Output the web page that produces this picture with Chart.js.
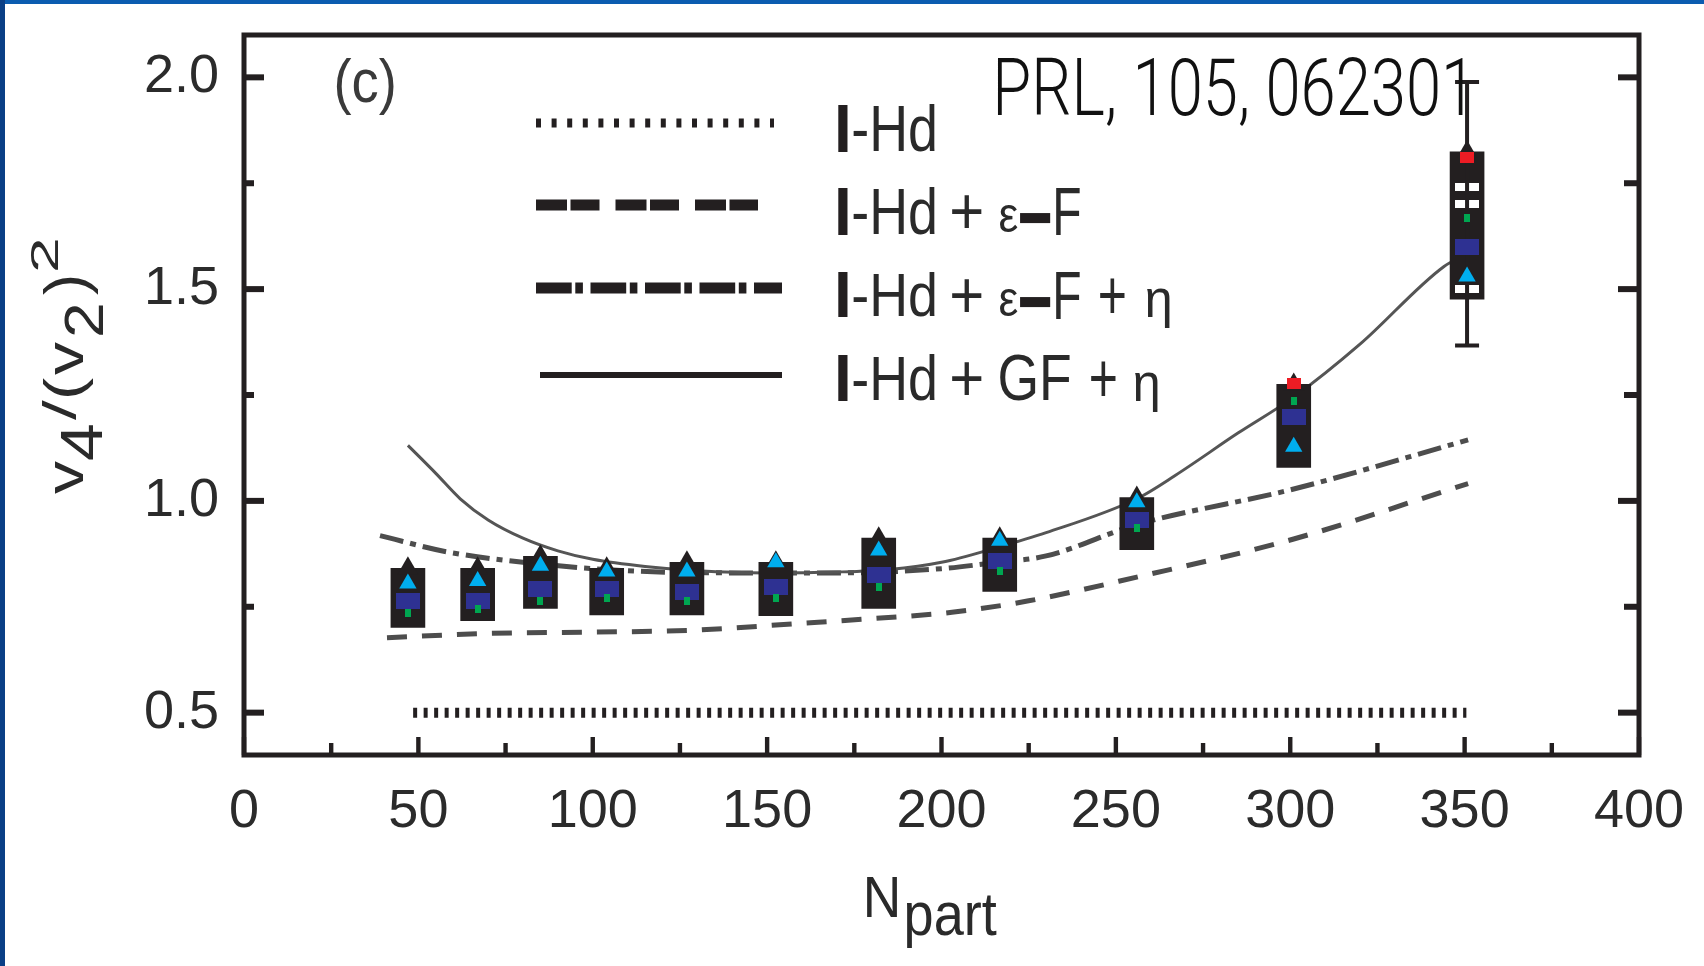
<!DOCTYPE html>
<html>
<head>
<meta charset="utf-8">
<script src="https://cdn.jsdelivr.net/npm/chart.js@4.4.1/dist/chart.umd.min.js"></script>
<style>
  html, body { margin: 0; padding: 0; background: #fff; }
  #wrap { width: 1704px; height: 966px; }
</style>
</head>
<body>
<div id="wrap"><canvas id="myChart" width="1704" height="966"></canvas></div>
<script>
// measured points (Npart positions of the centrality bins)
var nPart = [47, 67, 85, 104, 127, 152.5, 182, 216.7, 256, 301, 350.7];
var boxLow = [0.701, 0.717, 0.746, 0.731, 0.731, 0.729, 0.746, 0.786, 0.885, 1.079, 1.476];
var boxHigh = [0.841, 0.841, 0.869, 0.841, 0.855, 0.855, 0.912, 0.912, 1.008, 1.275, 1.824];
var cyanVal = [0.805, 0.811, 0.847, 0.833, 0.833, 0.855, 0.883, 0.906, 0.997, 1.128, 1.530];
var navyVal = [0.764, 0.764, 0.793, 0.791, 0.786, 0.797, 0.826, 0.857, 0.956, 1.199, 1.600];
var greenVal = [0.736, 0.745, 0.764, 0.771, 0.764, 0.771, 0.797, 0.835, 0.935, 1.235, 1.668];
var redN = [301, 350.7];
var redVal = [1.277, 1.811];
var openN = [350.7, 350.7, 350.7, 350.7];
var openVal = [1.74, 1.70, 1.60, 1.50];
var errN = [350.7];
var errLow = [1.367];
var errHigh = [1.989];

// model curves
var hdN = [48.5, 350.5];
var hdVal = [0.5, 0.5];
var efN = [41, 70, 100, 130, 158, 180, 203, 225, 256, 301, 351];
var efVal = [0.677, 0.687, 0.690, 0.695, 0.710, 0.722, 0.737, 0.764, 0.820, 0.910, 1.041];
var efeN = [39, 58, 80, 110, 140, 170, 200, 216, 230, 256, 301, 351];
var efeVal = [0.918, 0.880, 0.855, 0.835, 0.830, 0.830, 0.840, 0.855, 0.870, 0.944, 1.028, 1.144];
var gfN = [47, 55, 62, 70, 80, 90, 100, 115, 130, 150, 170, 185, 200, 216, 230, 256, 267, 285, 301, 320, 344, 350];
var gfVal = [1.131, 1.065, 1.005, 0.955, 0.912, 0.882, 0.862, 0.845, 0.835, 0.830, 0.832, 0.838, 0.855, 0.890, 0.925, 1.005, 1.060, 1.160, 1.245, 1.370, 1.553, 1.580];

var legendText = ['I-Hd', 'I-Hd + \u03b5\u2212F', 'I-Hd + \u03b5\u2212F + \u03b7', 'I-Hd + GF + \u03b7'];

// axis ticks
var xMajor = [0, 50, 100, 150, 200, 250, 300, 350, 400];
var xMinor = [25, 75, 125, 175, 225, 275, 325, 375];
var yMajor = [0.5, 1.0, 1.5, 2.0];
var yMinor = [0.75, 1.25, 1.75];

var INK = '#231f20';
var SANS = "'Liberation Sans', Arial, sans-serif";

function pts(xs, ys) {
    var out = [];
    for (var i = 0; i < xs.length; i++) {
        out.push({ x: xs[i], y: ys[i] });
    }
    return out;
}

function rectImg(w, h, color) {
    var c = document.createElement('canvas');
    c.width = w;
    c.height = h;
    var g = c.getContext('2d');
    g.fillStyle = color;
    g.fillRect(0, 0, w, h);
    return c;
}

// draws s so that its ink fills the box x0..x1, y0..y1
function fitInk(ctx, s, x0, x1, y0, y1, font, color) {
    ctx.save();
    ctx.font = font || ('64px ' + SANS);
    ctx.fillStyle = color || INK;
    ctx.textAlign = 'left';
    ctx.textBaseline = 'alphabetic';
    var m = ctx.measureText(s);
    var w = m.actualBoundingBoxLeft + m.actualBoundingBoxRight;
    var h = m.actualBoundingBoxAscent + m.actualBoundingBoxDescent;
    ctx.translate(x0, y0);
    ctx.scale((x1 - x0) / w, (y1 - y0) / h);
    ctx.fillText(s, m.actualBoundingBoxLeft, m.actualBoundingBoxAscent);
    ctx.restore();
}

var boxData = [];
for (var i = 0; i < nPart.length; i++) {
    boxData.push({ x: nPart[i], y: [boxLow[i], boxHigh[i]] });
}

var paperPlugin = {
    id: 'paper',
    beforeDraw: function (chart) {
        var ctx = chart.ctx;
        ctx.save();
        ctx.fillStyle = '#ffffff';
        ctx.fillRect(0, 0, chart.width, chart.height);
        ctx.fillStyle = '#0b5cb0';
        ctx.fillRect(0, 0, chart.width, 4);
        ctx.fillStyle = '#0a3f86';
        ctx.fillRect(0, 0, 5, chart.height);
        ctx.restore();
    },
    afterDatasetDraw: function (chart, args) {
        if (chart.data.datasets[args.index].label !== 'open') return;
        var ctx = chart.ctx;
        var xs = chart.scales.x, ys = chart.scales.y;
        ctx.save();
        ctx.strokeStyle = INK;
        ctx.lineWidth = 4;
        for (var i = 0; i < errN.length; i++) {
            var px = xs.getPixelForValue(errN[i]);
            var lo = ys.getPixelForValue(errLow[i]);
            var hi = ys.getPixelForValue(errHigh[i]);
            ctx.beginPath();
            ctx.moveTo(px, lo); ctx.lineTo(px, hi);
            ctx.moveTo(px - 12, lo); ctx.lineTo(px + 12, lo);
            ctx.moveTo(px - 12, hi); ctx.lineTo(px + 12, hi);
            ctx.stroke();
        }
        ctx.restore();
    },
    afterDraw: function (chart) {
        var ctx = chart.ctx;
        var a = chart.chartArea;
        var xs = chart.scales.x, ys = chart.scales.y;
        ctx.save();

        // frame
        ctx.strokeStyle = INK;
        ctx.lineWidth = 5;
        ctx.strokeRect(a.left, a.top, a.right - a.left, a.bottom - a.top);

        // inward ticks
        ctx.fillStyle = INK;
        xMajor.forEach(function (v) {
            var p = xs.getPixelForValue(v);
            ctx.fillRect(p - 2.2, a.bottom - 18, 4.4, 18);
        });
        xMinor.forEach(function (v) {
            var p = xs.getPixelForValue(v);
            ctx.fillRect(p - 2.2, a.bottom - 12, 4.4, 12);
        });
        yMajor.forEach(function (v) {
            var p = ys.getPixelForValue(v);
            ctx.fillRect(a.left, p - 3, 20, 6);
            ctx.fillRect(a.right - 21, p - 3, 21, 6);
        });
        yMinor.forEach(function (v) {
            var p = ys.getPixelForValue(v);
            ctx.fillRect(a.left, p - 3, 10, 6);
            ctx.fillRect(a.right - 15, p - 3, 15, 6);
        });

        // legend samples
        var rows = [
            { y: 123, x0: 536, x1: 774, w: 9, dash: [5, 10.6], top: 104, bot: 152 },
            { y: 205, x0: 536, x1: 758, w: 11, dash: [31, 3.5, 29, 16], top: 187, bot: 235 },
            { y: 288, x0: 536, x1: 782, w: 11, dash: [35.7, 3.6, 7.6, 7.6], top: 271, bot: 317 },
            { y: 375, x0: 540, x1: 782, w: 6, dash: [], top: 354, bot: 401 }
        ];
        ctx.strokeStyle = INK;
        ctx.lineCap = 'butt';
        rows.forEach(function (r) {
            ctx.lineWidth = r.w;
            ctx.setLineDash(r.dash);
            ctx.beginPath();
            ctx.moveTo(r.x0, r.y);
            ctx.lineTo(r.x1, r.y);
            ctx.stroke();
        });
        ctx.setLineDash([]);

        // legend labels
        var B = 'bold 64px ' + SANS;
        var T = '#2a2a2a';
        rows.forEach(function (r) {
            fitInk(ctx, 'I', 838, 848, r.top, r.bot, B, INK);
            fitInk(ctx, '-Hd', 853, 935, r.top, r.bot, null, T);
        });
        [1, 2].forEach(function (k) {
            var o = rows[k].top - 187;
            fitInk(ctx, '+', 952, 982, 195 + o, 228 + o, null, T);
            fitInk(ctx, '\u03b5', 1000, 1018, 205 + o, 233 + o, null, T);
            fitInk(ctx, '\u2212', 1020, 1051, 212 + o, 223 + o, null, INK);
            fitInk(ctx, 'F', 1056, 1080, 187 + o, 235 + o, null, T);
        });
        fitInk(ctx, '+', 1100, 1125, 277, 312, null, T);
        fitInk(ctx, '\u03b7', 1147, 1170, 288, 328, null, T);
        fitInk(ctx, '+', 952, 982, 362, 395, null, T);
        fitInk(ctx, 'GF', 1000, 1070, 354, 401, null, T);
        fitInk(ctx, '+', 1091, 1116, 360, 395, null, T);
        fitInk(ctx, '\u03b7', 1135, 1158, 372, 412, null, T);

        // panel label and reference
        fitInk(ctx, '(c)', 336, 394, 57, 115, null, '#3a3a3a');
        fitInk(ctx, 'PRL, 105, 062301', 998, 1463, 58, 126,
            "300 78px Roboto, 'Liberation Sans', sans-serif", '#111');

        // x title
        fitInk(ctx, 'N', 867, 897, 877, 917, null, '#2a2a2a');
        fitInk(ctx, 'part', 907, 997, 895, 948, null, '#2a2a2a');

        // y title, rotated (u along the text, w across it)
        ctx.translate(83, 494);
        ctx.rotate(-Math.PI / 2);
        var Y = '#2a2a2a';
        fitInk(ctx, 'v', 0, 33, -29, 0, null, Y);
        fitInk(ctx, '4', 34, 69, -23, 19, null, Y);
        fitInk(ctx, '/', 74, 94, -40, -6, null, Y);
        fitInk(ctx, '(', 97, 116, -40, 10, null, Y);
        fitInk(ctx, 'v', 119, 152, -28, 0, null, Y);
        fitInk(ctx, '2', 159, 189, -20, 20, null, Y);
        fitInk(ctx, ')', 199, 217, -40, 15, null, Y);
        fitInk(ctx, '2', 224, 254, -53, -25, null, Y);

        ctx.restore();
    }
};

var ctx = document.getElementById('myChart').getContext('2d');

window.myChart = new Chart(ctx, {
    type: 'scatter',
    data: {
        datasets: [
            {
                type: 'line', label: legendText[0], data: pts(hdN, hdVal),
                borderColor: INK, borderWidth: 10, borderDash: [4, 6.5],
                pointRadius: 0, order: 20
            },
            {
                type: 'line', label: legendText[1], data: pts(efN, efVal),
                borderColor: '#4d4d4d', borderWidth: 5, borderDash: [20, 15],
                pointRadius: 0, cubicInterpolationMode: 'monotone', order: 19
            },
            {
                type: 'line', label: legendText[2], data: pts(efeN, efeVal),
                borderColor: '#4d4d4d', borderWidth: 5, borderDash: [24, 7, 6, 7],
                pointRadius: 0, cubicInterpolationMode: 'monotone', order: 18
            },
            {
                type: 'line', label: legendText[3], data: pts(gfN, gfVal),
                borderColor: '#555555', borderWidth: 3,
                pointRadius: 0, cubicInterpolationMode: 'monotone', order: 17
            },
            {
                type: 'bar', label: 'systematic', data: boxData,
                backgroundColor: INK, borderWidth: 0, barThickness: 34, order: 10
            },
            {
                type: 'scatter', label: 'roof', data: pts(nPart, boxHigh),
                pointStyle: 'triangle', pointRadius: 12, backgroundColor: INK,
                borderWidth: 0, order: 9
            },
            {
                type: 'scatter', label: 'open', data: pts(openN, openVal),
                pointStyle: rectImg(24, 8, '#ffffff'), order: 8
            },
            {
                type: 'scatter', label: 'navy', data: pts(nPart, navyVal),
                pointStyle: rectImg(24, 16, '#2e3192'), order: 7
            },
            {
                type: 'scatter', label: 'green', data: pts(nPart, greenVal),
                pointStyle: rectImg(6, 8, '#00a651'), order: 6
            },
            {
                type: 'scatter', label: 'cyan', data: pts(nPart, cyanVal),
                pointStyle: 'triangle', pointRadius: 10, backgroundColor: '#00aeef',
                borderWidth: 0, order: 5
            },
            {
                type: 'scatter', label: 'red', data: pts(redN, redVal),
                pointStyle: rectImg(14, 11, '#ed1c24'), order: 4
            }
        ]
    },
    options: {
        responsive: false,
        devicePixelRatio: 1,
        animation: false,
        events: [],
        layout: { padding: { top: 35, right: 65, left: 0, bottom: 0 } },
        plugins: {
            legend: { display: false },
            tooltip: { enabled: false }
        },
        scales: {
            x: {
                type: 'linear', position: 'bottom', min: 0, max: 400,
                offset: false,
                grid: { display: false, drawTicks: false, offset: false },
                border: { display: false },
                afterBuildTicks: function (s) {
                    s.ticks = xMajor.map(function (v) { return { value: v }; });
                },
                afterFit: function (s) {
                    s.height = 211;
                    s.paddingLeft = 0;
                    s.paddingRight = 0;
                },
                ticks: {
                    color: '#2b2b2b', padding: 25,
                    font: { family: SANS, size: 54 },
                    maxRotation: 0, autoSkip: false,
                    callback: function (v) { return String(v); }
                }
            },
            y: {
                type: 'linear', min: 0.4, max: 2.1,
                grid: { display: false, drawTicks: false },
                border: { display: false },
                afterBuildTicks: function (s) {
                    s.ticks = yMajor.map(function (v) { return { value: v }; });
                },
                afterFit: function (s) {
                    s.width = 244;
                    s.paddingTop = 0;
                    s.paddingBottom = 0;
                },
                ticks: {
                    color: '#2b2b2b', padding: 25,
                    font: { family: SANS, size: 54 },
                    autoSkip: false,
                    callback: function (v) { return v.toFixed(1); }
                }
            }
        }
    },
    plugins: [paperPlugin]
});
</script>
</body>
</html>
